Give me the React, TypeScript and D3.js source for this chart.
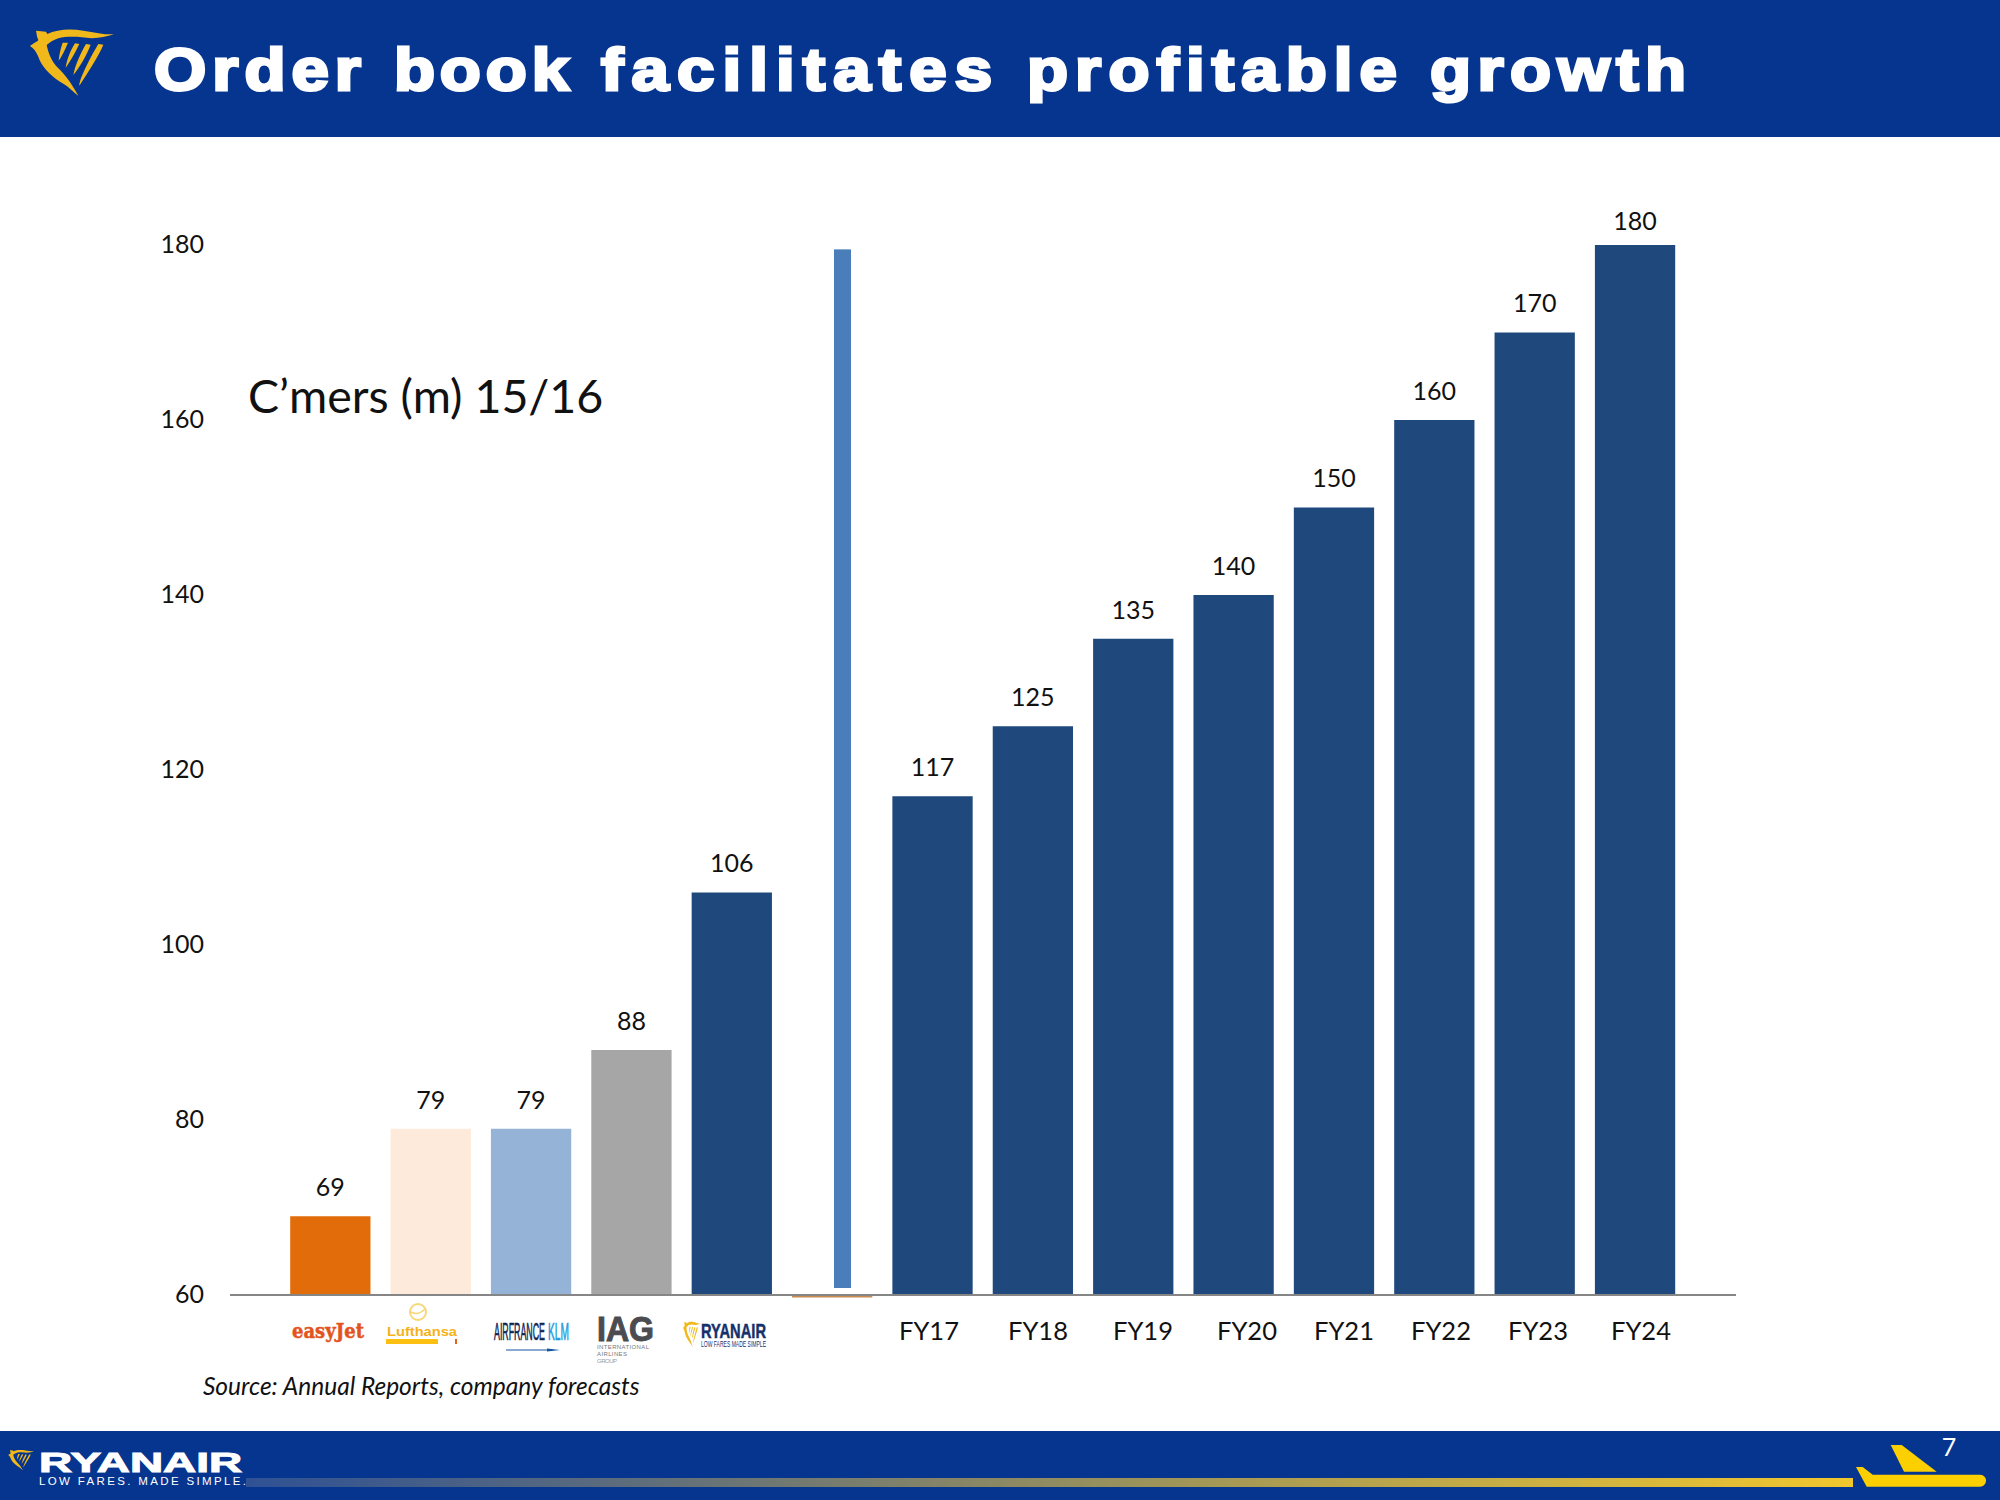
import React from "react";
import * as d3 from "d3";

const categories = ["easyJet", "Lufthansa", "Air France KLM", "IAG", "Ryanair", "", "FY17", "FY18", "FY19", "FY20", "FY21", "FY22", "FY23", "FY24"];
const values = [69, 79, 79, 88, 106, 60, 117, 125, 135, 140, 150, 160, 170, 180];
const barColors = ["#e36c0a", "#fdeada", "#95b3d7", "#a6a6a6", "#1f497d", "#c98a50", "#1f497d", "#1f497d", "#1f497d", "#1f497d", "#1f497d", "#1f497d", "#1f497d", "#1f497d"];
const valueLabels = ["69", "79", "79", "88", "106", "", "117", "125", "135", "140", "150", "160", "170", "180"];
const yTicks = [60, 80, 100, 120, 140, 160, 180];
const fyLabels = ["FY17", "FY18", "FY19", "FY20", "FY21", "FY22", "FY23", "FY24"];
const fyLabelX = [929, 1038, 1143, 1247, 1344, 1441, 1538, 1641];
const dividerRange = [60, 179.5];
const titleWords = ["Order", "book", "facilitates", "profitable", "growth"];
const titleWordStart = [154, 394, 601, 1027, 1430];
const titleWordEnd = [361, 569, 992, 1397, 1686];

const BODY = "Lato, 'Open Sans', sans-serif";
const NAVY = "#06358f";
const GOLD = "#f1b81c";
const TITLE_STRETCH = 1.12;

const y = d3.scaleLinear().domain([60, 180]).range([1295, 245]);
const x = d3.scaleBand<number>().domain(d3.range(categories.length)).range([290.2, 1675.2]).paddingInner(0.2).paddingOuter(0);

const FIGURE = "M48 32 L78 35 L82 42 C110 28 150 25 190 32 C225 38 255 44 282 43 C260 50 240 54 215 55 C180 50 140 48 115 55 C100 60 88 68 80 75 C85 100 95 125 115 145 C135 165 155 190 175 228 C160 215 140 195 120 185 C90 165 65 140 55 110 C48 95 42 85 30 78 C40 70 52 65 55 60 C50 50 50 40 48 32 Z";
const STRINGS = [
  "M128 68 L144 68 C135 90 125 110 116 122 C118 100 122 85 128 68 Z",
  "M165 70 L178 72 C165 100 150 125 137 143 C140 120 152 90 165 70 Z",
  "M198 72 L212 74 C200 105 180 140 160 165 C165 135 182 100 198 72 Z",
  "M235 72 L250 74 C235 110 205 155 178 197 C178 175 215 105 235 72 Z",
];

function Harp({ tx, ty, sx, sy }: { tx: number; ty: number; sx: number; sy: number }) {
  return (
    <g transform={`translate(${tx},${ty}) scale(${sx},${sy})`} fill={GOLD}>
      <path d={FIGURE} />
      {STRINGS.map((d) => <path key={d} d={d} />)}
    </g>
  );
}

export default function App() {
  const bw = x.bandwidth();
  return (
    <svg width={2000} height={1500} style={{ position: "absolute", left: 0, top: 0, background: "#fff" }}>
      <rect x={0} y={0} width={2000} height={137} fill={NAVY} />
      <Harp tx={20} ty={20} sx={1 / 3} sy={1 / 3} />
      <g transform={`translate(0,90) scale(${TITLE_STRETCH},1)`}>
        <text y={0} fill="#fff" stroke="#fff" strokeWidth={3} fontFamily="'Liberation Sans', Arial, sans-serif" fontWeight={700} fontSize={60}>
          {titleWords.map((w, i) => (
            <React.Fragment key={w}>
              <tspan x={titleWordStart[i] / TITLE_STRETCH} textLength={(titleWordEnd[i] - titleWordStart[i]) / TITLE_STRETCH} lengthAdjust="spacing">{w}</tspan>
              {i < titleWords.length - 1 ? " " : ""}
            </React.Fragment>
          ))}
        </text>
      </g>

      {yTicks.map((t) => (
        <text key={t} x={204} y={y(t)} dy="0.31em" textAnchor="end" fontFamily={BODY} fontSize={25} fill="#111">{t}</text>
      ))}

      {values.map((v, i) => i === 5 ? (
        <rect key={i} x={x(i)!} y={y(60)} width={bw} height={2.5} fill={barColors[i]} />
      ) : (
        <rect key={i} x={x(i)!} y={y(v)} width={bw} height={y(60) - y(v)} fill={barColors[i]} />
      ))}
      <rect x={834} width={17} y={y(dividerRange[1])} height={y(dividerRange[0]) - y(dividerRange[1]) - 7} fill="#4a7ebb" />
      <line x1={230} x2={1736} y1={y(60)} y2={y(60)} stroke="#868686" strokeWidth={2} />

      {values.map((v, i) => valueLabels[i] && (
        <text key={i} x={x(i)! + bw / 2} y={Math.max(y(v) - 29, 221)} dy="0.35em" textAnchor="middle" fontFamily={BODY} fontSize={25} fill="#111">{valueLabels[i]}</text>
      ))}

      {fyLabels.map((l, i) => (
        <text key={l} x={fyLabelX[i]} y={1331} dy="0.35em" textAnchor="middle" fontFamily={BODY} fontSize={25.5} fill="#111">{l}</text>
      ))}

      <text x={248} y={413} fontFamily={BODY} fontSize={46.5} fill="#111">C’mers (m) 15/16</text>
      <text x={203} y={1395} fontFamily={BODY} fontStyle="italic" fontSize={24.5} fill="#111">Source: Annual Reports, company forecasts</text>

      {/* airline logos */}
      <text x={292} y={1338} stroke="#e2531d" strokeWidth={0.5} fontFamily="'DejaVu Serif', serif" fontWeight={700} fontSize={21} textLength={72} lengthAdjust="spacingAndGlyphs" fill="#e2531d">easyJet</text>

      <circle cx={418} cy={1312} r={8} fill="none" stroke="#f8d77c" strokeWidth={2} />
      <path d="M411 1312 Q418 1316 425 1309" fill="none" stroke="#f8d77c" strokeWidth={1.5} />
      <text x={387} y={1336} fontFamily="'Liberation Sans',sans-serif" fontWeight={700} fontSize={13} textLength={70} lengthAdjust="spacingAndGlyphs" fill="#f5b21a">Lufthansa</text>
      <rect x={386} y={1339} width={52} height={5} fill="#fbc011" />
      <rect x={455} y={1339} width={2} height={5} fill="#e2631d" />

      <g transform="translate(494,1340) scale(1,2.6)">
        <text x={0} y={0} stroke="#0e2452" strokeWidth={0.25} fontFamily="'Liberation Sans Narrow','Liberation Sans',sans-serif" fontSize={9.5} textLength={51} lengthAdjust="spacingAndGlyphs" fill="#0e2452">AIRFRANCE</text>
        <text x={54} y={0} stroke="#1f9ae0" strokeWidth={0.25} fontFamily="'Liberation Sans Narrow','Liberation Sans',sans-serif" fontSize={9.5} textLength={21} lengthAdjust="spacingAndGlyphs" fill="#1f9ae0">KLM</text>
      </g>
      <path d="M506 1349.5 L547 1349.5 L547 1348.5 L560 1350 L547 1351.5 L547 1350.5 L506 1350.5 Z" fill="#14549f" />

      <text x={597} y={1341} stroke="#4b4b50" strokeWidth={1} fontFamily="'Liberation Sans',sans-serif" fontWeight={700} fontSize={35} textLength={57} lengthAdjust="spacingAndGlyphs" fill="#4b4b50">IAG</text>
      <text x={597} y={1349} fontFamily="'Liberation Sans',sans-serif" fontSize={6} textLength={52} lengthAdjust="spacing" fill="#777">INTERNATIONAL</text>
      <text x={597} y={1356} fontFamily="'Liberation Sans',sans-serif" fontSize={6} textLength={30} lengthAdjust="spacing" fill="#777">AIRLINES</text>
      <text x={597} y={1363} fontFamily="'Liberation Sans',sans-serif" fontSize={6} textLength={20} lengthAdjust="spacing" fill="#999">GROUP</text>

      <Harp tx={681} ty={1318} sx={0.0675} sy={0.128} />
      <text x={701} y={1338} stroke="#15306b" strokeWidth={0.5} fontFamily="'Liberation Sans',sans-serif" fontWeight={700} fontSize={21} textLength={65} lengthAdjust="spacingAndGlyphs" fill="#15306b">RYANAIR</text>
      <text x={701} y={1346.5} fontFamily="'Liberation Sans Narrow','Liberation Sans',sans-serif" fontSize={8.5} textLength={65} lengthAdjust="spacingAndGlyphs" fill="#15306b">LOW FARES MADE SIMPLE</text>

      {/* footer */}
      <rect x={0} y={1431} width={2000} height={69} fill={NAVY} />
      <defs>
        <linearGradient id="trail" x1="0" x2="1" y1="0" y2="0">
          <stop offset="0" stopColor="#2f5194" />
          <stop offset="1" stopColor="#f2c72e" />
        </linearGradient>
      </defs>
      <rect x={246} y={1478} width={1607} height={9} fill="url(#trail)" />
      <Harp tx={5} ty={1447} sx={0.103} sy={0.103} />
      <text x={39} y={1472} fill="#fff" stroke="#fff" strokeWidth={1} fontFamily="'Liberation Sans',sans-serif" fontWeight={700} fontSize={28} textLength={203} lengthAdjust="spacingAndGlyphs">RYANAIR</text>
      <text x={39} y={1485} fill="#fff" fontFamily="'Liberation Sans',sans-serif" fontSize={11.5} textLength={207} lengthAdjust="spacing">LOW FARES. MADE SIMPLE.</text>
      <g fill="#fccf00">
        <path d="M1890.7 1445 L1901.7 1445 L1936.7 1471.7 L1904 1471.7 Z" />
        <path d="M1856 1467 L1862.7 1467 L1872.7 1474.7 L1980 1474.7 C1988 1475 1988 1486 1980 1486.7 L1866.7 1486.7 Z" />
      </g>
      <text x={1949} y={1447} dy="0.35em" textAnchor="middle" fill="#fff" fontFamily={BODY} fontSize={25}>7</text>
    </svg>
  );
}
